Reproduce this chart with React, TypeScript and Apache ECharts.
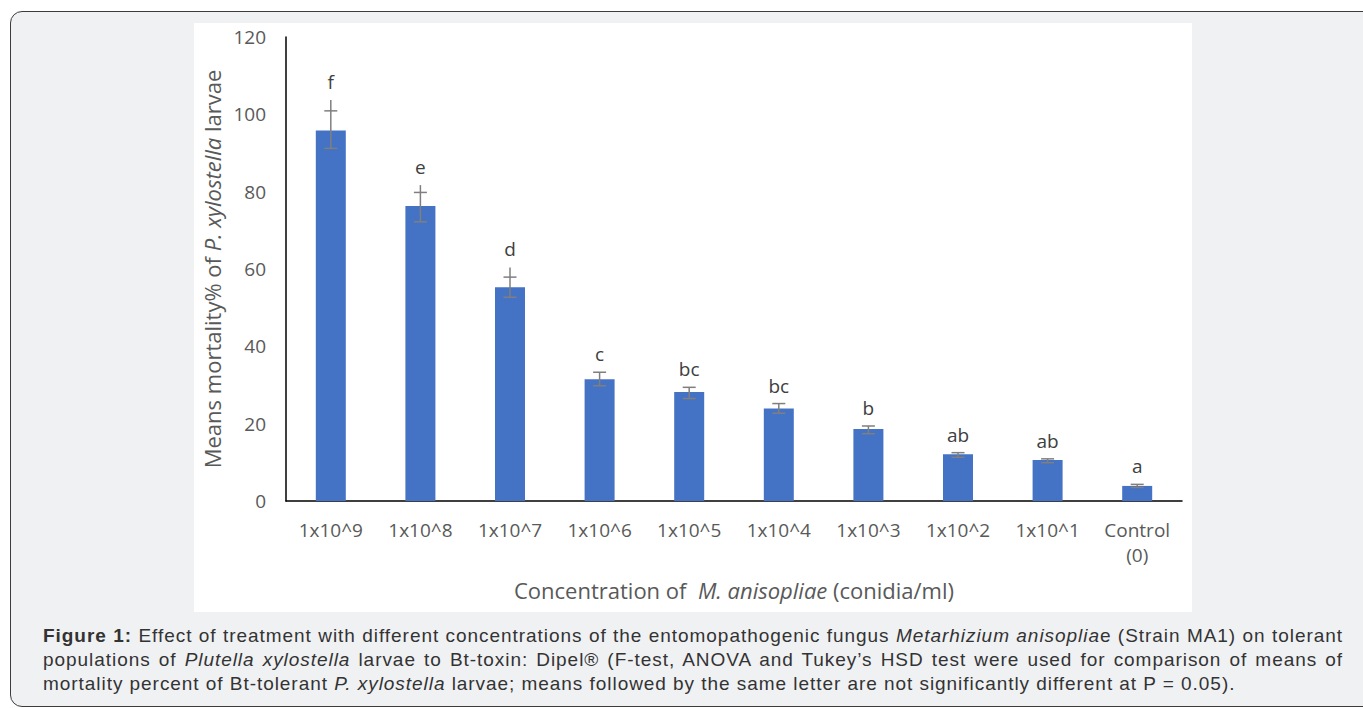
import React, { useEffect, useRef } from "react";
import * as echarts from "echarts";

const categories = ["1x10^9", "1x10^8", "1x10^7", "1x10^6", "1x10^5", "1x10^4", "1x10^3", "1x10^2", "1x10^1", "Control\n(0)"];
const means = [95.8, 76.3, 55.3, 31.5, 28.2, 23.9, 18.6, 12.1, 10.6, 3.9];
const errLow = [91.2, 72.2, 52.7, 29.8, 26.5, 22.7, 17.4, 11.3, 9.9, 3.5];
const errCapHigh = [100.9, 79.8, 57.9, 33.3, 29.4, 25.2, 19.4, 12.5, 10.9, 4.3];
const errTop = [103.7, 81.7, 60.4, 33.3, 29.4, 25.2, 19.4, 12.5, 10.9, 4.3];
const letters = ["f", "e", "d", "c", "bc", "bc", "b", "ab", "ab", "a"];
const yTicks = { min: 0, max: 120, interval: 20 };

const FONT = "'Open Sans', 'Noto Sans', sans-serif";

export default function App() {
  const ref = useRef<HTMLDivElement>(null);

  useEffect(() => {
    if (!ref.current) return;
    const chart = echarts.init(ref.current, null, { renderer: "svg" });
    const errData = means.map((_, i) => [i, errLow[i], errCapHigh[i], errTop[i]]);
    const letterData = means.map((_, i) => [i, errTop[i]]);
    const titleRich = {
      n: { color: "#595959", fontSize: 22, fontFamily: FONT },
      i: { color: "#595959", fontSize: 22, fontFamily: FONT, fontStyle: "italic" },
    };
    chart.setOption({
      animation: false,
      grid: { left: 286, top: 37, width: 896, height: 464, containLabel: false },
      xAxis: {
        type: "category",
        data: categories,
        axisLine: { lineStyle: { color: "#000", width: 1.5 } },
        axisTick: { show: false },
        axisLabel: {
          interval: 0,
          color: "#595959",
          fontSize: 19,
          fontFamily: FONT,
          margin: 16,
          lineHeight: 25,
        },
        name: "{n|Concentration of  }{i|M. anisopliae}{n| (conidia/ml)}",
        nameLocation: "middle",
        nameGap: 78,
        nameTextStyle: { color: "#595959", fontSize: 22, fontFamily: FONT, rich: titleRich },
      },
      yAxis: {
        type: "value",
        min: yTicks.min,
        max: yTicks.max,
        interval: yTicks.interval,
        axisLine: { show: true, lineStyle: { color: "#000", width: 1.5 } },
        axisTick: { show: false },
        splitLine: { show: false },
        axisLabel: { color: "#595959", fontSize: 19, fontFamily: FONT, margin: 20 },
        name: "{n|Means mortality% of }{i|P. xylostella}{n| larvae}",
        nameLocation: "middle",
        nameGap: 60,
        nameRotate: 90,
        nameTextStyle: { color: "#595959", fontSize: 22, fontFamily: FONT, rich: titleRich },
      },
      series: [
        {
          type: "bar",
          data: means,
          barWidth: 30,
          itemStyle: { color: "#4472c4" },
        },
        {
          type: "custom",
          data: errData,
          z: 5,
          renderItem: (params: any, api: any) => {
            const i = api.value(0);
            const low = api.coord([i, api.value(1)]);
            const capH = api.coord([i, api.value(2)]);
            const top = api.coord([i, api.value(3)]);
            const x = low[0];
            const hw = 6.5;
            const style = { stroke: "#7f7f7f", lineWidth: 1.5 };
            return {
              type: "group",
              children: [
                { type: "line", shape: { x1: x, y1: low[1], x2: x, y2: top[1] }, style },
                { type: "line", shape: { x1: x - hw, y1: low[1], x2: x + hw, y2: low[1] }, style },
                { type: "line", shape: { x1: x - hw, y1: capH[1], x2: x + hw, y2: capH[1] }, style },
              ],
            };
          },
        },
        {
          type: "custom",
          data: letterData,
          z: 6,
          renderItem: (params: any, api: any) => {
            const p = api.coord([api.value(0), api.value(1)]);
            return {
              type: "text",
              x: p[0],
              y: p[1] - 18,
              style: {
                text: letters[params.dataIndex],
                fill: "#404040",
                fontSize: 19,
                fontFamily: FONT,
                align: "center",
                verticalAlign: "middle",
              },
            };
          },
        },
      ],
    });
    return () => chart.dispose();
  }, []);

  const lineStyle: React.CSSProperties = { textAlign: "justify", textAlignLast: "justify" as any, height: 24 };

  return (
    <div style={{ position: "fixed", left: 0, top: 0, width: 1363, height: 708, overflow: "hidden", background: "#fff" }}>
      <div
        style={{
          position: "absolute",
          left: 10,
          top: 11,
          width: 1380,
          height: 696,
          boxSizing: "border-box",
          border: "1.5px solid #3c3c3c",
          borderRadius: 12,
          background: "#f0f1f3",
        }}
      />
      <div style={{ position: "absolute", left: 194, top: 23, width: 998, height: 589, background: "#fff" }} />
      <div ref={ref} style={{ position: "absolute", left: 0, top: 0, width: 1363, height: 708 }} />
      <div
        style={{
          position: "absolute",
          left: 43,
          top: 624,
          width: 1300,
          fontFamily: "'Liberation Sans', Arial, sans-serif",
          fontSize: 19,
          letterSpacing: 0.95,
          lineHeight: "24px",
          color: "#333",
        }}
      >
        <div style={lineStyle}>
          <b>Figure 1:</b> Effect of treatment with different concentrations of the entomopathogenic fungus{" "}
          <i>Metarhizium anisoplia</i>e (Strain MA1) on tolerant
        </div>
        <div style={lineStyle}>
          populations of <i>Plutella xylostella</i> larvae to Bt-toxin: Dipel® (F-test, ANOVA and Tukey’s HSD test were
          used for comparison of means of
        </div>
        <div style={{ height: 24 }}>
          mortality percent of Bt-tolerant <i>P. xylostella</i> larvae; means followed by the same letter are not
          significantly different at P = 0.05).
        </div>
      </div>
    </div>
  );
}
